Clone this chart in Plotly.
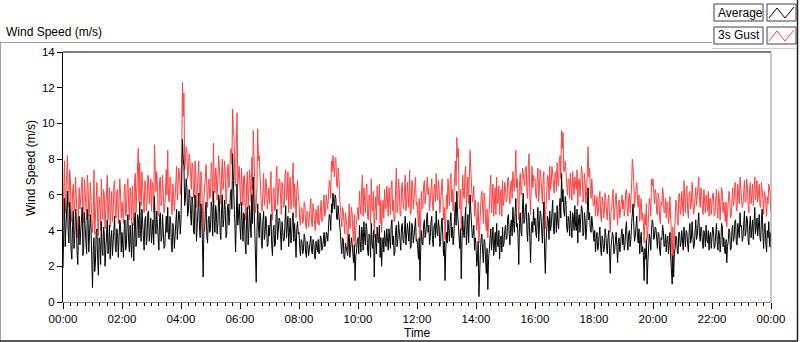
import pandas as pd
import plotly.graph_objects as go

# ---------------- data (1.5-minute steps, 00:00 -> 24:00) ----------------
avg_speed = [
    # 00h
    1.9,4.7,5.8,3.1,4.2,5.5,6.2,4.0,3.3,5.6,4.9,2.8,2.4,4.3,5.1,3.0,3.7,5.2,4.5,2.9,2.1,3.8,4.8,3.2,3.9,4.6,5.3,2.6,3.0,5.0,4.4,3.6,2.7,5.2,4.6,2.8,3.5,4.9,4.1,2.5,
    # 01h
    0.8,2.9,3.6,1.7,2.2,3.9,4.1,2.4,1.5,3.6,3.3,2.1,4.5,3.0,2.6,4.2,3.8,2.0,2.9,4.4,4.6,2.7,3.1,4.3,2.4,3.5,4.0,2.6,3.3,4.5,4.8,3.0,2.8,4.1,3.9,2.5,3.4,4.6,4.3,2.8,
    # 02h
    3.9,2.6,2.5,4.1,4.6,2.9,3.2,4.5,4.9,3.4,2.8,4.3,3.7,2.5,4.4,3.3,2.3,4.6,5.0,3.1,3.5,4.9,4.7,3.6,5.6,4.0,3.4,5.2,4.2,3.0,2.9,4.6,4.8,3.2,3.6,5.0,5.1,3.4,4.0,4.7,
    # 03h
    3.3,4.5,4.6,3.2,5.9,4.4,3.8,5.1,4.4,3.0,2.9,4.7,5.0,3.4,3.6,4.9,4.2,3.0,3.1,4.6,4.8,3.9,5.3,3.6,3.5,4.8,4.5,3.1,2.8,4.4,4.1,3.0,3.7,4.9,5.2,3.5,4.3,5.1,4.9,3.8,
    # 04h
    4.6,6.2,9.1,8.0,7.6,5.4,5.8,6.9,6.4,4.8,5.1,6.3,6.0,4.9,4.3,5.9,5.5,3.9,3.8,6.0,5.2,3.4,4.7,5.8,6.1,4.2,3.6,5.5,4.9,3.5,1.4,3.9,4.0,5.1,5.6,3.7,3.3,4.6,4.8,3.9,
    # 05h
    4.1,5.6,5.3,3.7,6.2,4.6,3.9,5.4,5.0,3.8,4.4,6.0,5.7,3.9,3.5,5.1,6.0,4.2,4.6,5.7,5.2,3.6,3.8,5.3,5.5,4.3,4.8,6.1,6.3,5.2,8.3,6.8,5.9,4.4,2.8,5.8,6.6,4.3,5.0,5.5,
    # 06h
    4.2,3.5,5.6,4.1,3.4,5.0,4.9,3.3,2.7,4.6,5.3,3.2,3.9,5.4,4.5,3.6,6.0,4.4,7.0,5.6,4.8,3.0,1.1,3.9,5.5,4.2,3.6,5.0,4.7,3.4,3.0,4.5,5.1,3.5,3.8,4.8,4.4,3.1,3.2,4.3,
    # 07h
    3.7,4.4,4.9,3.2,2.6,4.0,4.3,3.1,3.3,4.8,5.2,3.5,3.9,4.7,4.6,3.0,2.9,4.5,4.1,3.4,3.5,4.9,5.4,3.6,4.0,4.8,3.1,4.2,4.7,3.3,3.6,4.6,5.0,3.4,4.4,3.6,2.5,4.1,4.5,3.8,
    # 08h
    3.9,3.0,2.6,3.5,3.4,2.7,2.9,3.8,3.6,2.8,2.5,3.4,3.2,2.6,3.0,3.6,3.7,2.9,2.7,3.5,3.3,2.6,2.4,3.4,3.1,2.8,3.5,2.7,2.8,3.7,3.6,2.9,3.0,3.5,3.9,3.1,3.3,3.9,3.8,3.4,
    # 09h
    4.2,4.9,4.8,4.0,5.5,5.0,6.1,5.3,5.2,6.0,5.8,4.7,4.6,5.4,5.0,4.2,3.9,3.2,2.7,3.6,3.5,2.5,2.4,3.3,3.1,2.7,2.6,3.4,3.8,2.5,2.9,3.6,3.3,2.4,2.2,3.2,1.2,2.6,2.8,3.5,
    # 10h
    3.6,2.7,4.3,3.4,2.8,4.2,3.9,2.9,4.5,3.6,3.2,4.4,4.1,2.9,2.6,3.8,3.7,2.5,4.4,3.3,3.0,4.0,1.4,3.1,3.8,2.7,4.2,3.5,3.3,4.3,2.5,3.6,2.0,3.2,3.6,2.8,4.0,3.4,3.1,4.1,
    # 11h
    3.4,2.9,4.1,3.6,3.0,4.3,4.6,3.2,3.7,2.6,2.8,4.0,4.3,3.1,3.5,4.5,4.0,3.0,2.9,4.2,4.4,3.5,3.3,4.0,4.8,3.2,3.6,4.4,3.9,3.4,4.5,3.0,3.1,4.4,4.2,3.3,3.7,4.5,4.7,3.4,
    # 12h
    3.5,3.0,2.4,3.6,1.2,2.9,4.0,3.3,3.2,4.3,4.6,3.6,3.8,4.6,5.0,3.9,4.3,3.2,3.6,4.5,4.8,3.5,3.1,4.2,4.4,3.6,5.1,4.0,3.7,4.6,4.2,3.1,3.4,4.3,4.7,3.7,2.6,3.4,1.2,2.8,
    # 13h
    3.9,3.3,4.6,4.0,3.4,4.5,5.0,3.6,4.2,3.2,3.7,4.8,5.6,4.3,6.2,5.0,4.4,3.7,3.0,4.1,1.3,3.4,4.8,3.9,3.6,4.6,5.3,3.2,4.1,4.9,3.3,4.8,6.0,5.1,4.5,3.6,3.8,4.3,2.9,3.6,
    # 14h
    3.2,2.0,2.5,3.4,0.3,2.2,2.9,3.6,3.8,2.8,2.2,3.5,3.4,2.4,1.6,3.0,0.7,2.3,3.0,3.8,4.1,2.9,3.5,4.2,2.6,3.4,3.9,2.8,4.4,3.3,3.1,4.0,2.4,3.5,3.7,2.8,4.2,3.1,3.3,4.0,
    # 15h
    4.3,3.5,3.6,4.7,4.9,3.8,3.2,4.3,4.6,3.7,5.3,4.4,3.9,5.0,5.8,4.2,4.4,3.6,2.1,4.4,5.0,3.9,3.7,5.2,6.1,4.4,4.6,5.3,5.5,4.0,3.4,5.0,4.8,3.6,2.2,4.1,4.5,3.9,5.2,4.3,
    # 16h
    4.7,3.9,3.6,4.6,5.3,3.4,4.0,5.1,4.9,3.7,3.3,4.5,5.6,2.8,1.6,3.3,3.9,4.8,4.6,3.5,5.1,4.0,4.3,5.3,5.7,4.1,3.8,5.0,4.9,3.9,5.4,4.4,4.1,5.3,5.8,4.7,7.2,5.6,6.3,5.1,
    # 17h
    4.8,5.9,5.6,4.2,3.9,4.8,4.5,3.7,5.1,4.3,3.6,5.0,4.7,4.0,5.4,4.3,4.0,5.2,3.3,4.6,4.9,3.9,4.4,5.4,5.2,3.7,3.8,5.0,4.6,3.5,4.1,5.3,6.4,4.6,5.0,4.1,3.9,4.8,4.3,3.5,
    # 18h
    3.4,4.0,2.8,3.5,3.9,2.9,3.1,3.8,4.2,3.0,2.6,3.7,3.5,2.8,3.0,4.1,3.8,3.1,2.7,3.6,4.0,2.9,1.6,3.0,3.3,3.9,3.7,2.7,2.9,3.6,3.9,3.1,2.2,3.4,3.6,2.8,3.1,3.8,4.1,3.2,
    # 19h
    3.8,2.9,3.2,4.1,4.5,3.4,2.9,3.8,4.0,3.1,3.5,4.4,5.0,5.5,4.2,3.4,3.7,4.5,4.8,3.6,3.3,4.1,2.7,3.5,3.9,2.8,3.1,2.6,1.2,3.0,2.4,3.5,1.0,2.2,3.0,3.8,3.6,2.9,4.1,4.6,
    # 20h
    4.4,3.5,3.6,4.2,4.1,3.1,3.0,3.9,3.8,2.9,2.6,3.6,3.5,4.3,4.0,3.1,3.2,3.8,2.8,3.5,3.7,2.7,3.1,3.9,2.5,2.0,1.0,2.6,1.4,2.8,3.0,3.7,3.6,2.8,2.7,3.9,3.9,3.1,3.3,4.0,
    # 21h
    3.6,2.9,4.2,3.5,3.1,4.0,3.9,3.2,2.8,3.9,4.4,3.3,3.5,4.5,4.0,3.0,3.2,4.1,4.6,3.5,3.7,4.4,5.0,3.8,3.4,4.2,4.1,3.3,3.0,4.0,3.8,3.1,4.3,3.5,3.3,4.0,2.9,3.7,3.9,3.0,
    # 22h
    3.5,4.2,4.0,3.0,3.1,3.9,4.4,3.4,2.9,4.0,3.8,2.8,3.3,4.4,4.2,3.1,3.6,2.9,2.7,3.5,2.2,3.1,3.4,4.1,3.9,2.9,3.0,4.0,4.3,3.4,3.6,4.5,4.6,3.3,3.2,4.4,4.1,3.6,5.0,4.2,
    # 23h
    4.3,3.4,3.6,4.5,5.1,3.7,3.9,4.8,4.6,3.5,3.2,4.3,4.8,3.6,4.0,4.6,3.5,4.4,5.3,3.8,4.1,4.7,3.7,4.5,4.9,3.6,3.4,4.6,5.2,3.9,3.0,4.3,4.4,3.3,2.8,4.0,3.6,4.5,3.1,3.9,
    3.0,
]

gust_speed = [
    # 00h
    4.6,6.8,7.9,5.0,6.0,7.6,8.2,6.1,5.3,7.4,6.9,4.7,4.5,6.2,6.6,5.1,5.5,7.0,6.3,4.9,3.6,5.8,6.4,5.2,5.7,6.6,7.0,4.4,4.8,6.9,6.2,5.4,4.6,7.1,6.5,4.8,5.1,6.7,5.9,4.3,
    # 01h
    3.9,4.8,7.4,3.8,4.8,6.1,6.7,4.5,3.7,5.9,5.4,4.0,6.9,5.2,4.6,6.3,6.0,4.1,5.1,6.5,7.1,4.6,5.5,6.4,4.2,5.7,6.2,4.5,5.0,6.6,6.8,4.9,4.7,6.2,6.3,4.4,5.6,6.9,6.1,4.7,
    # 02h
    5.6,4.5,4.4,6.2,6.6,4.8,5.0,6.5,6.9,5.5,4.6,6.4,5.8,4.4,6.5,5.3,4.3,6.7,7.2,5.0,6.0,7.4,8.6,5.6,7.8,6.1,5.4,7.3,6.3,5.2,5.0,6.8,6.7,5.1,5.6,7.1,7.0,5.5,6.2,6.9,
    # 03h
    5.1,6.7,6.5,5.0,8.8,6.3,6.2,7.3,6.6,4.9,4.8,6.8,7.0,5.4,5.7,7.1,6.4,5.0,5.2,6.9,7.4,6.0,8.5,5.8,5.6,7.0,6.9,5.2,4.9,6.6,6.1,5.1,5.8,7.2,7.6,5.7,6.7,7.5,7.2,6.0,
    # 04h
    6.8,8.3,12.3,10.4,11.7,7.4,7.9,8.7,8.4,6.9,7.2,8.3,8.0,6.8,6.3,7.8,7.6,5.9,5.8,7.9,7.1,5.3,6.6,7.6,7.9,6.2,5.4,7.3,6.8,5.4,3.9,5.8,6.2,7.0,7.7,5.6,5.3,6.6,6.9,5.8,
    # 05h
    6.0,7.8,7.2,5.6,8.9,6.8,6.1,7.5,7.0,5.7,8.1,8.2,7.6,6.0,5.5,7.1,8.0,6.3,6.8,7.9,7.3,5.5,5.9,7.6,7.7,6.4,6.9,8.4,8.6,7.7,10.8,9.6,9.2,6.8,6.5,8.9,10.6,6.6,7.4,7.6,
    # 06h
    6.3,5.4,7.5,6.2,5.4,7.0,7.1,5.3,4.6,6.6,7.3,5.2,6.0,7.4,6.6,5.6,8.1,6.3,9.6,7.8,6.9,5.0,5.5,6.4,9.7,7.9,8.2,6.9,6.7,5.3,5.1,6.5,7.2,5.4,5.8,6.9,6.5,5.2,5.6,6.4,
    # 07h
    5.5,6.6,7.3,5.0,4.6,6.1,6.4,5.1,5.2,7.0,7.6,5.4,5.9,6.9,6.8,4.9,4.9,6.7,6.3,5.3,5.4,7.1,7.4,5.7,6.1,7.3,5.0,6.4,7.0,5.2,5.6,6.8,7.8,5.3,6.6,5.8,4.7,6.2,6.8,6.0,
    # 08h
    5.6,4.6,4.3,5.3,5.2,4.4,4.6,5.6,5.5,4.3,4.1,5.1,4.9,4.2,4.7,5.4,5.8,4.5,4.2,5.5,5.0,4.1,4.0,5.2,4.8,4.4,5.4,4.3,4.5,5.5,5.7,4.5,4.6,5.4,6.0,4.8,5.1,6.0,5.5,5.2,
    # 09h
    5.9,6.8,6.6,5.8,7.9,7.3,8.2,7.6,7.0,8.0,8.1,6.6,6.4,7.5,7.2,6.0,5.6,4.8,4.2,5.3,5.1,4.0,3.8,5.0,4.6,4.2,2.9,5.2,5.5,4.1,4.3,5.3,5.0,3.9,3.4,4.9,3.1,4.1,4.6,5.3,
    # 10h
    5.3,4.6,6.2,5.4,4.9,6.4,7.1,4.8,6.4,5.7,5.0,6.3,6.6,4.8,4.6,6.0,5.8,4.4,6.9,5.3,5.1,6.2,3.6,5.0,5.9,4.6,6.5,5.6,5.4,6.6,4.4,5.7,3.9,5.1,5.7,4.7,6.3,5.5,5.2,6.5,
    # 11h
    5.3,4.8,6.4,5.6,4.9,6.5,6.8,5.1,5.7,4.5,4.7,6.3,7.5,5.0,5.5,6.9,6.3,4.9,4.8,6.4,6.7,5.5,5.2,6.2,7.1,5.1,5.6,6.7,6.2,5.3,7.4,4.9,5.0,6.8,6.6,5.2,5.8,6.6,7.0,5.4,
    # 12h
    5.6,4.9,4.2,5.8,3.4,4.7,6.2,5.2,5.3,6.5,6.8,5.5,5.9,6.7,7.0,6.0,6.4,5.1,5.6,6.6,6.9,5.4,5.1,6.3,6.6,5.6,7.2,6.1,5.7,6.8,6.3,5.0,5.5,6.4,6.9,5.9,4.6,5.3,3.5,4.6,
    # 13h
    6.0,5.2,6.9,6.2,5.4,6.8,7.2,5.6,6.3,5.1,5.9,7.0,7.9,6.5,9.2,8.1,8.6,5.8,5.2,6.3,4.0,5.5,7.1,6.1,5.8,7.2,7.6,5.3,6.5,7.0,5.5,7.1,8.5,7.4,6.7,5.6,5.9,6.5,4.8,5.7,
    # 14h
    5.0,4.0,4.6,5.6,3.3,4.4,5.5,5.9,6.2,4.7,4.4,6.1,5.8,4.5,4.0,5.2,3.6,4.4,5.7,6.3,7.1,5.0,6.0,6.6,4.8,5.8,6.4,4.9,7.0,5.5,5.6,6.5,4.9,5.9,6.3,4.8,6.8,5.4,5.7,6.7,
    # 15h
    6.4,5.6,5.7,6.9,7.0,5.9,5.5,6.5,6.8,5.8,7.3,6.7,6.2,7.2,8.5,6.4,6.9,5.5,4.6,6.6,7.2,6.0,6.1,7.5,7.0,6.6,6.5,7.4,7.6,6.2,5.8,7.7,8.3,6.0,4.9,6.6,7.6,6.4,7.1,6.8,
    # 16h
    6.9,6.0,5.8,6.9,7.5,5.6,6.2,7.4,7.0,5.9,5.5,6.8,7.3,5.0,4.1,5.4,6.4,7.1,6.9,5.7,7.6,6.3,6.6,7.6,7.2,6.4,6.1,7.1,7.3,6.2,7.8,6.7,6.5,7.9,8.2,6.9,9.6,8.6,9.5,7.3,
    # 17h
    7.4,7.9,7.1,6.1,6.0,6.9,6.8,5.8,7.2,6.4,5.7,7.3,6.6,6.0,7.0,6.5,6.3,7.4,5.4,6.8,6.9,5.9,6.5,7.6,7.3,5.6,5.8,7.2,6.7,5.5,6.2,7.8,8.7,7.0,7.5,6.2,5.8,6.9,6.0,5.4,
    # 18h
    5.4,6.0,4.8,5.5,5.9,4.8,5.0,5.8,6.2,4.9,4.5,5.9,5.6,4.7,5.1,6.1,5.8,5.0,4.6,5.7,6.0,4.8,3.9,5.0,5.3,6.0,6.3,4.6,4.9,5.7,6.1,5.1,4.3,5.5,5.7,4.7,5.2,6.0,6.0,5.2,
    # 19h
    5.7,4.8,5.2,6.2,6.3,5.3,4.8,5.8,6.1,5.0,5.6,6.5,8.0,7.6,6.6,5.3,5.9,6.6,6.7,5.7,5.3,6.0,4.5,5.4,5.8,4.6,5.0,4.4,3.3,4.9,4.3,5.5,3.5,4.0,5.1,5.8,5.6,4.8,6.9,6.5,
    # 20h
    6.9,5.5,5.5,6.3,6.1,5.0,4.9,6.1,5.8,4.7,4.4,5.6,5.4,6.4,6.0,5.0,5.0,5.8,4.7,5.6,5.6,4.4,4.8,5.9,3.9,3.6,2.0,4.2,2.6,4.5,4.6,5.7,5.5,4.6,4.3,6.0,6.1,4.9,5.2,6.2,
    # 21h
    5.4,4.8,6.8,5.6,5.0,6.3,6.5,5.1,4.7,6.1,6.2,5.2,5.5,6.7,6.0,4.9,5.2,6.2,6.4,5.4,5.9,6.6,7.0,5.9,5.3,6.4,6.1,5.2,4.9,6.3,5.6,5.0,6.0,5.6,5.1,6.2,4.8,5.8,5.8,4.9,
    # 22h
    5.3,6.1,6.0,4.8,4.9,5.9,6.3,5.3,4.7,6.2,5.8,4.6,5.2,6.4,6.1,5.0,5.6,4.8,4.5,5.6,4.2,5.0,5.4,6.2,5.9,4.7,4.8,6.1,6.4,5.4,5.7,6.7,6.6,5.2,5.1,6.6,6.2,5.5,7.0,6.3,
    # 23h
    6.1,5.3,5.5,6.6,6.8,5.6,5.7,6.9,6.5,5.4,5.0,6.3,6.7,5.5,5.9,6.6,5.4,6.4,7.0,5.7,6.2,6.8,5.6,6.5,6.6,5.4,5.3,6.7,6.4,5.8,4.9,6.2,6.0,5.1,4.8,5.9,5.5,6.6,6.2,6.0,
    5.0,
]

tick_labels = ["00:00", "02:00", "04:00", "06:00", "08:00", "10:00", "12:00",
               "14:00", "16:00", "18:00", "20:00", "22:00", "00:00"]
y_ticks = [0, 2, 4, 6, 8, 10, 12, 14]
series_names = ["Average", "3s Gust"]

# ---------------- geometry ----------------
W, H = 800, 342
L, R, T, B = 63, 771, 52, 302          # plot area in pixels
start = pd.Timestamp("2024-01-01 00:00")
end = start + pd.Timedelta(hours=24)


def times_for(values):
    n = len(values)
    step = (end - start) / (n - 1)
    return [start + i * step for i in range(n)]


def px(x):
    return (x - L) / (R - L)


def py(y):
    return (B - y) / (B - T)


FONT = "Liberation Sans"
RED = "#ff4040"

fig = go.Figure()
fig.add_trace(go.Scatter(x=times_for(gust_speed), y=gust_speed, mode="lines",
                         name=series_names[1], line=dict(color=RED, width=1)))
fig.add_trace(go.Scatter(x=times_for(avg_speed), y=avg_speed, mode="lines",
                         name=series_names[0], line=dict(color="#000000", width=1)))

tickvals = [start + pd.Timedelta(hours=2 * i) for i in range(len(tick_labels))]

fig.update_layout(
    width=W, height=H,
    margin=dict(l=L, r=W - R, t=T, b=H - B, pad=0),
    paper_bgcolor="white", plot_bgcolor="white",
    showlegend=False,
    font=dict(family=FONT, size=11, color="#000000"),
    xaxis=dict(
        range=[start, end], tickmode="array", tickvals=tickvals, ticktext=tick_labels,
        showgrid=False, zeroline=False, showline=True, linecolor="#8c8c8c", linewidth=1,
        ticks="outside", ticklen=6, tickcolor="#000000", tickwidth=1,
        tickfont=dict(family=FONT, size=11.5, color="#000000"),
        minor=dict(tickmode="linear", tick0=start, dtick=15 * 60 * 1000,
                   ticks="outside", ticklen=3, tickcolor="#000000", showgrid=False),
    ),
    yaxis=dict(
        range=[0, 14], tickmode="array", tickvals=y_ticks,
        showgrid=False, zeroline=False, showline=True, linecolor="#000000", linewidth=1,
        ticks="outside", ticklen=5, tickcolor="#000000",
        tickfont=dict(family=FONT, size=11.5, color="#000000"),
    ),
)

shapes = []
# plot-area top (black) and right (gray) borders
shapes.append(dict(type="line", xref="paper", yref="paper", x0=0, x1=1, y0=1, y1=1,
                   line=dict(color="#000000", width=1)))
shapes.append(dict(type="line", xref="paper", yref="paper", x0=1, x1=1, y0=0, y1=1,
                   line=dict(color="#8c8c8c", width=1)))
# outer chart frame
shapes.append(dict(type="line", xref="paper", yref="paper", x0=px(0), x1=px(712),
                   y0=py(42.5), y1=py(42.5), line=dict(color="#a0a0a0", width=1)))
shapes.append(dict(type="line", xref="paper", yref="paper", x0=px(0.5), x1=px(0.5),
                   y0=py(42.5), y1=py(341), line=dict(color="#a0a0a0", width=1)))
shapes.append(dict(type="line", xref="paper", yref="paper", x0=px(0), x1=px(798),
                   y0=py(341), y1=py(341), line=dict(color="#202020", width=1.5)))
shapes.append(dict(type="line", xref="paper", yref="paper", x0=px(797.5), x1=px(797.5),
                   y0=py(0), y1=py(341), line=dict(color="#202020", width=1.5)))
shapes.append(dict(type="line", xref="paper", yref="paper", x0=px(712), x1=px(797),
                   y0=py(48.5), y1=py(48.5), line=dict(color="#d0d0d0", width=1)))

# legend boxes
legend_rows = [(4, 21, "#000000"), (27, 44, RED)]
for (y0, y1, col), name in zip(legend_rows, series_names):
    shapes.append(dict(type="rect", xref="paper", yref="paper",
                       x0=px(714), x1=px(763), y0=py(y1), y1=py(y0),
                       line=dict(color="#404040", width=1), fillcolor="white"))
    shapes.append(dict(type="rect", xref="paper", yref="paper",
                       x0=px(767), x1=px(796), y0=py(y1), y1=py(y0),
                       line=dict(color="#404040", width=1), fillcolor="white"))
    pts = [(769, y1 - 3), (777, y0 + 4), (785, y1 - 3), (794, y0 + 3)]
    path = "M " + " L ".join(f"{px(a):.5f},{py(b):.5f}" for a, b in pts)
    shapes.append(dict(type="path", xref="paper", yref="paper", path=path,
                       line=dict(color=col, width=1)))

fig.update_layout(shapes=shapes)

annotations = [
    dict(text="Wind Speed (m/s)", x=px(4), y=py(32), xanchor="left", yanchor="middle",
         font=dict(family=FONT, size=12, color="#000000")),
    dict(text="Wind Speed (m/s)", x=px(31), y=py(168), xanchor="center", yanchor="middle",
         textangle=-90, font=dict(family=FONT, size=12, color="#000000")),
    dict(text="Time", x=px(417), y=py(333), xanchor="center", yanchor="middle",
         font=dict(family=FONT, size=12, color="#000000")),
]
for (y0, y1, col), name in zip(legend_rows, series_names):
    annotations.append(dict(text=name, x=px(716), y=py((y0 + y1) / 2), xanchor="left",
                            yanchor="middle", font=dict(family=FONT, size=12, color="#000000")))
for a in annotations:
    a.update(xref="paper", yref="paper", showarrow=False)
fig.update_layout(annotations=annotations)

fig.write_html("out.html",
               config={"displayModeBar": False},
               post_script="document.body.style.margin='0';document.body.style.overflow='hidden';")
